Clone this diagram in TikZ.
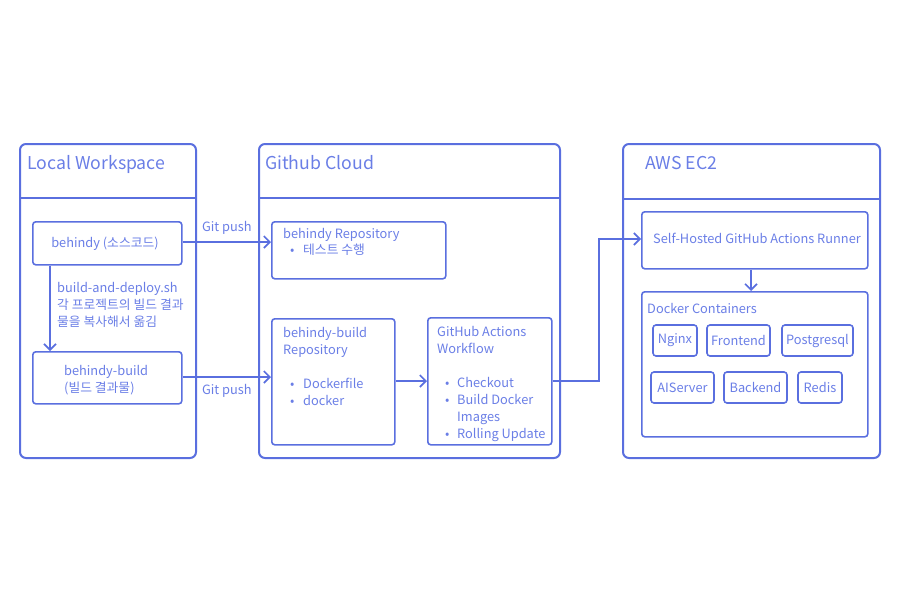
\documentclass[tikz,border=0pt]{standalone}
\usepackage{fontspec}
\setmainfont{Noto Sans CJK KR}
\usetikzlibrary{arrows.meta}
\definecolor{ln}{HTML}{5A6FDF}
\definecolor{tx}{HTML}{6A7EE6}
\begin{document}
\begin{tikzpicture}[x=1pt,y=-1pt,
  outer/.style={draw=ln,line width=2pt,rounded corners=6pt,anchor=north west,inner sep=0pt},
  inner/.style={draw=ln,line width=1.6pt,rounded corners=3pt,anchor=north west,inner sep=0pt},
  cbox/.style={draw=ln,line width=1.6pt,rounded corners=3pt,inner sep=0pt,text=tx,font=\fontsize{12.8}{17}\selectfont},
  lbl/.style={text=tx,font=\fontsize{12.8}{17}\selectfont,inner sep=0pt,anchor=base west},
  clbl/.style={text=tx,font=\fontsize{12.8}{17}\selectfont,inner sep=0pt,anchor=base},
  ttl/.style={text=tx,font=\fontsize{17.7}{22}\selectfont,inner sep=0pt,anchor=base west},
  arr/.style={draw=ln,line width=1.6pt,-{Straight Barb[length=6pt,width=12pt,line width=1.6pt]}},
  hline/.style={draw=ln,line width=2pt}
]
\useasboundingbox (0,0) rectangle (900,600);

% ---------- Local Workspace ----------
\node[outer,minimum width=176pt,minimum height=314pt] (lw) at (19,143) {};
\draw[hline] ([yshift=-55pt]lw.north west) -- ([yshift=-55pt]lw.north east);
\node[ttl] (lwt) at (27,169) {Local Workspace};
\node[inner,minimum width=149pt,minimum height=43pt] (src) at (32,221) {};
\node[clbl] (srct) at (105,247) {behindy (소스코드)};
\node[inner,minimum width=149pt,minimum height=52pt] (bld) at (32,351) {};
\node[lbl] (bldt1) at (64,375) {behindy-build};
\node[lbl] (bldt2) at (64,392) {(빌드 결과물)};
\draw[arr] ([xshift=18pt]src.south west) -- ([xshift=18pt]bld.north west);
\node[lbl] (sh1) at (57,292) {build-and-deploy.sh};
\node[lbl] (sh2) at (57,309) {각 프로젝트의 빌드 결과};
\node[lbl] (sh3) at (57,326) {물을 복사해서 옮김};

% ---------- Github Cloud ----------
\node[outer,minimum width=301pt,minimum height=314pt] (gc) at (258,143) {};
\draw[hline] ([yshift=-55pt]gc.north west) -- ([yshift=-55pt]gc.north east);
\node[ttl] (gct) at (265,169) {Github Cloud};
\node[inner,minimum width=174pt,minimum height=57pt] (repo) at (271,221) {};
\node[lbl] (repot) at (283,238) {behindy Repository};
\node[lbl] (repob) at (290,254) {•};
\node[lbl] (repoi) at (303,254) {테스트 수행};
\node[inner,minimum width=123pt,minimum height=126pt] (brepo) at (271,318) {};
\node[lbl] (brt1) at (283,337) {behindy-build};
\node[lbl] (brt2) at (283,354) {Repository};
\node[lbl] (brb1) at (290,388) {•};
\node[lbl] (bri1) at (303,388) {Dockerfile};
\node[lbl] (brb2) at (290,405) {•};
\node[lbl] (bri2) at (303,405) {docker};
\node[inner,minimum width=124pt,minimum height=127pt] (wf) at (427,317) {};
\node[lbl] (wft1) at (437,336) {GitHub Actions};
\node[lbl] (wft2) at (437,353) {Workflow};
\node[lbl] (wfb1) at (445,387) {•};
\node[lbl] (wfi1) at (457,387) {Checkout};
\node[lbl] (wfb2) at (445,404) {•};
\node[lbl] (wfi2) at (457,404) {Build Docker};
\node[lbl] (wfi3) at (457,421) {Images};
\node[lbl] (wfb3) at (445,438) {•};
\node[lbl] (wfi4) at (457,438) {Rolling Update};

% ---------- AWS EC2 ----------
\node[outer,minimum width=257pt,minimum height=314pt] (aws) at (622,143) {};
\draw[hline] ([yshift=-56pt]aws.north west) -- ([yshift=-56pt]aws.north east);
\node[ttl] (awst) at (645,169) {AWS EC2};
\node[inner,minimum width=226pt,minimum height=57pt] (run) at (641,211) {};
\node[clbl] (runt) at (757,243) {Self-Hosted GitHub Actions Runner};
\node[inner,minimum width=226pt,minimum height=145pt] (dc) at (641,291) {};
\node[lbl] (dct) at (647,313) {Docker Containers};
\node[cbox,minimum width=44pt,minimum height=31pt] (ngx) at (675,340.5) {Nginx};
\node[cbox,minimum width=63pt,minimum height=31pt] (fe) at (738.5,340.5) {Frontend};
\node[cbox,minimum width=71pt,minimum height=31pt] (pg) at (817.5,340.5) {Postgresql};
\node[cbox,minimum width=63pt,minimum height=31pt] (ai) at (682.5,387.5) {AIServer};
\node[cbox,minimum width=63pt,minimum height=31pt] (be) at (755.5,387.5) {Backend};
\node[cbox,minimum width=44pt,minimum height=31pt] (rd) at (820,387.5) {Redis};

% ---------- connectors ----------
\draw[arr] ([yshift=-21pt]src.north east) -- ([yshift=-21pt]src.north east -| repo.west)
  node[midway,above=7pt,clbl,anchor=south] (gp1) {Git push};
\draw[arr] ([yshift=-26pt]bld.north east) -- ([yshift=-26pt]bld.north east -| brepo.west)
  node[midway,below=7pt,clbl,anchor=north] (gp2) {Git push};
\draw[arr] ([yshift=-63pt]brepo.north east) -- ([yshift=-63pt]brepo.north east -| wf.west);
\coordinate (bend) at (599,0);
\draw[draw=ln,line width=1.6pt,-{Straight Barb[length=6pt,width=12pt,line width=1.6pt]}]
  ([yshift=-64pt]wf.north east) -- ([yshift=-64pt]wf.north east -| bend)
  |- ([yshift=-28pt]run.north west);
\draw[arr] ([xshift=110pt]run.south west) -- ([xshift=110pt]dc.north west);
\end{tikzpicture}
\end{document}
